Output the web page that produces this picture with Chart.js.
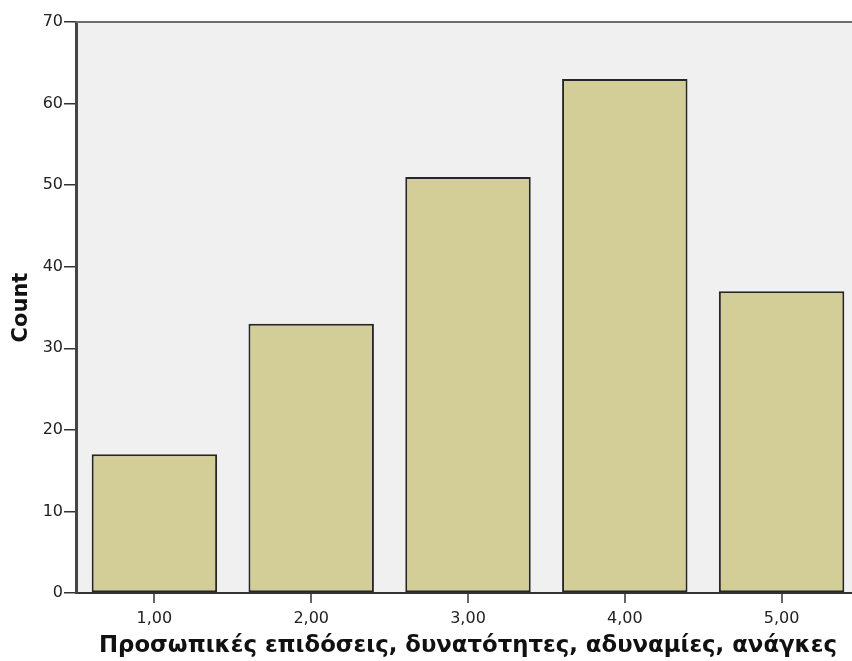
<!DOCTYPE html>
<html>
<head>
<meta charset="utf-8">
<script src="https://cdn.jsdelivr.net/npm/chart.js@4.4.1/dist/chart.umd.min.js"></script>
<style>
  html, body { margin: 0; padding: 0; background: #fff; overflow: hidden; }
  #wrap { width: 852px; height: 661px; overflow: hidden; }
</style>
</head>
<body>
<div id="wrap"><canvas id="chart" width="860" height="661"></canvas></div>
<script>
var categories = ['1,00', '2,00', '3,00', '4,00', '5,00'];
var counts = [17, 33, 51, 63, 37];
var yTicks = [0, 10, 20, 30, 40, 50, 60, 70];

// grey plot background + top frame line, like SPSS output
var plotFrame = {
    id: 'plotFrame',
    beforeDraw: function (chart) {
        var a = chart.chartArea, ctx = chart.ctx;
        ctx.save();
        ctx.fillStyle = '#f0f0f0';
        ctx.fillRect(a.left, a.top, a.right - a.left, a.bottom - a.top);
        ctx.restore();
    },
    afterDraw: function (chart) {
        var a = chart.chartArea, ctx = chart.ctx;
        ctx.save();
        ctx.strokeStyle = '#6e6e6e';
        ctx.lineWidth = 2;
        ctx.beginPath();
        ctx.moveTo(a.left, a.top);
        ctx.lineTo(a.right, a.top);
        ctx.stroke();
        ctx.restore();
    }
};

var countChart = new Chart(document.getElementById('chart'), {
    type: 'bar',
    data: {
        labels: categories,
        datasets: [
            {
                label: 'Count',
                backgroundColor: '#d3ce97',
                borderColor: '#262626',
                borderWidth: 2,
                borderSkipped: false,
                barPercentage: 0.8,
                categoryPercentage: 1.0,
                data: counts
            }
        ]
    },
    options: {
        responsive: false,
        animation: false,
        layout: { padding: { top: 22, right: 0, left: 0, bottom: 0 } },
        plugins: { legend: { display: false }, tooltip: { enabled: false } },
        scales: {
            x: {
                afterFit: function (s) { s.height = 68; },
                grid: { offset: false, drawOnChartArea: false, drawTicks: true, tickLength: 10, tickColor: '#666', lineWidth: 2 },
                border: { color: '#333', width: 2 },
                ticks: { color: '#222', font: { family: 'DejaVu Sans', size: 16 }, padding: 6 },
                title: {
                    display: true,
                    text: 'Προσωπικές επιδόσεις, δυνατότητες, αδυναμίες, ανάγκες',
                    color: '#111',
                    font: { family: 'DejaVu Sans', size: 22.8, weight: 'bold' },
                    padding: { top: 0, bottom: 1 }
                }
            },
            y: {
                min: 0,
                max: 70,
                afterFit: function (s) { s.width = 76; },
                afterBuildTicks: function (s) { s.ticks = yTicks.map(function (v) { return { value: v }; }); },
                grid: { drawOnChartArea: false, drawTicks: true, tickLength: 12, tickColor: '#333', lineWidth: 1.5 },
                border: { color: '#444', width: 3 },
                ticks: { color: '#222', font: { family: 'DejaVu Sans', size: 16 }, padding: 1 },
                title: {
                    display: true,
                    text: 'Count',
                    color: '#111',
                    font: { family: 'DejaVu Sans', size: 21, weight: 'bold' },
                    padding: { top: 9, bottom: 0 }
                }
            }
        }
    },
    plugins: [plotFrame]
});
</script>
</body>
</html>
